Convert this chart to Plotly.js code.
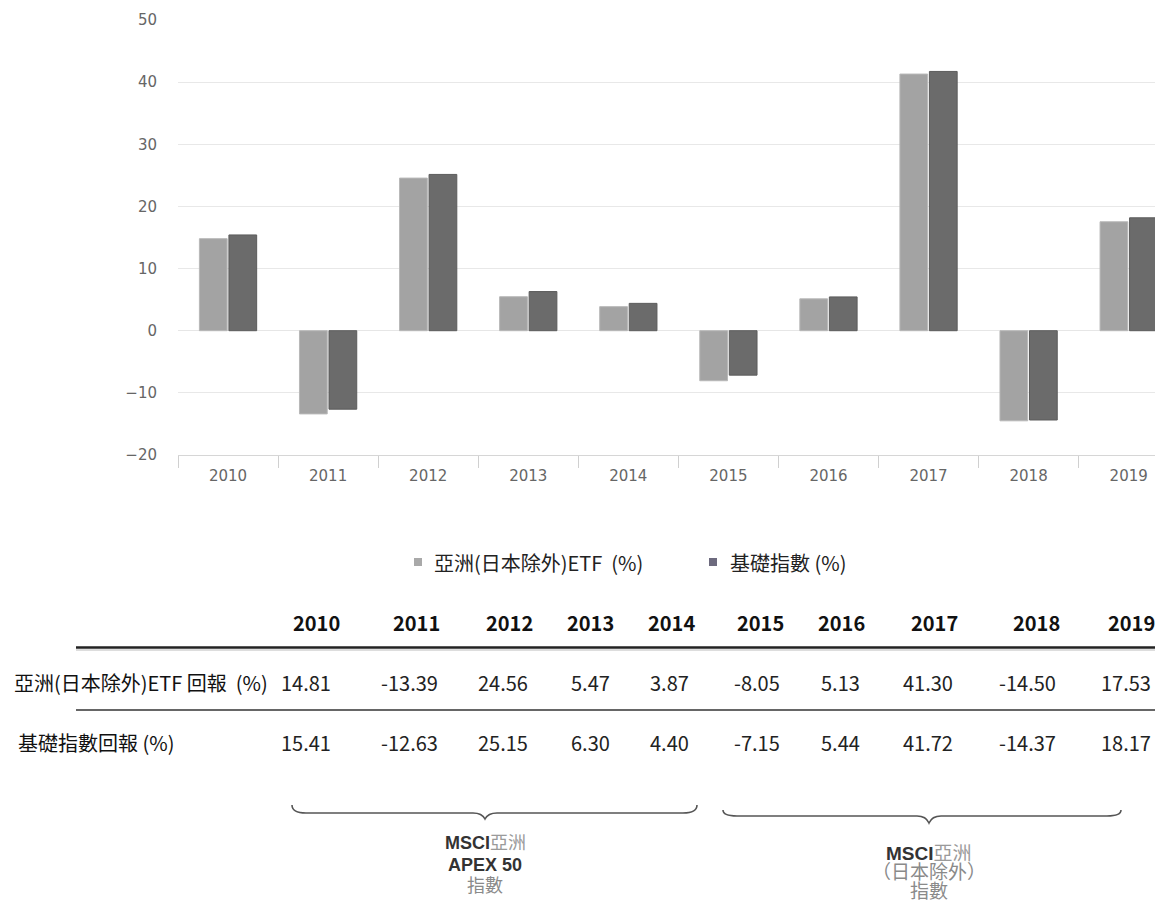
<!DOCTYPE html>
<html>
<head>
<meta charset="utf-8">
<script src="https://cdn.plot.ly/plotly-3.0.1.min.js"></script>
<style>
  html, body { margin: 0; padding: 0; background: #ffffff; }
  #chart { width: 1155px; height: 902px; }
</style>
</head>
<body>
<div id="chart"></div>
<script>
// ---------- DATA ----------
const years = ['2010', '2011', '2012', '2013', '2014', '2015', '2016', '2017', '2018', '2019'];
const etfReturns = [14.81, -13.39, 24.56, 5.47, 3.87, -8.05, 5.13, 41.30, -14.50, 17.53];
const indexReturns = [15.41, -12.63, 25.15, 6.30, 4.40, -7.15, 5.44, 41.72, -14.37, 18.17];
const seriesNames = ['亞洲(日本除外)ETF\u00a0\u00a0(%)', '基礎指數 (%)'];
const rowLabels = ['亞洲(日本除外)ETF 回報\u00a0\u00a0(%)', '基礎指數回報 (%)'];
const yTickValues = [-20, -10, 0, 10, 20, 30, 40, 50];
const braceOneLines = ['MSCI|亞洲', 'APEX 50', '指數'];
const braceTwoLines = ['MSCI|亞洲', '（日本除外）', '指數'];

// ---------- LAYOUT HELPERS (pixel -> paper) ----------
const W = 1155, H = 902;
const M = { l: 178, r: 0, t: 20, b: 447 };
const plotW = W - M.l - M.r, plotH = H - M.t - M.b;
const X = px => (px - M.l) / plotW;
const Y = py => (H - M.b - py) / plotH;

const colors = { etf: '#a3a3a3', idx: '#6b6b6b', legendEtf: '#a9a9a9', legendIdx: '#6d6a7e' };
const cjk = '"Noto Sans CJK TC", "Noto Sans CJK SC", sans-serif';

// table column positions (pixels)
const headerX = [316, 416, 509, 590, 671, 760, 841, 934, 1036, 1131];
const valueX = [306, 409, 503, 590, 669, 757, 840, 928, 1027, 1126];
const headerY = 622, row1Y = 682, row2Y = 742;

const annotations = [];
const shapes = [];

// legend (manual)
const legendItems = [
  { sx: 418, tx: 432, color: colors.legendEtf, text: seriesNames[0] },
  { sx: 713, tx: 728, color: colors.legendIdx, text: seriesNames[1] }
];
legendItems.forEach(it => {
  shapes.push({ type: 'rect', xref: 'paper', yref: 'paper',
    x0: X(it.sx - 4), x1: X(it.sx + 4), y0: Y(566), y1: Y(558),
    fillcolor: it.color, line: { width: 0 } });
  annotations.push({ xref: 'paper', yref: 'paper', x: X(it.tx), y: Y(562),
    xanchor: 'left', yanchor: 'middle', showarrow: false, text: it.text,
    font: { family: cjk, size: 20, color: '#222' } });
});

// table header
years.forEach((yr, i) => {
  annotations.push({ xref: 'paper', yref: 'paper', x: X(headerX[i]), y: Y(headerY),
    xanchor: 'center', yanchor: 'middle', showarrow: false, text: '<b>' + yr + '</b>',
    font: { family: cjk, size: 20, color: '#111' } });
});
// row labels
annotations.push({ xref: 'paper', yref: 'paper', x: X(12), y: Y(row1Y), xanchor: 'left', yanchor: 'middle',
  showarrow: false, text: rowLabels[0], font: { family: cjk, size: 20, color: '#111' } });
annotations.push({ xref: 'paper', yref: 'paper', x: X(16), y: Y(row2Y), xanchor: 'left', yanchor: 'middle',
  showarrow: false, text: rowLabels[1], font: { family: cjk, size: 20, color: '#111' } });
// values
[etfReturns, indexReturns].forEach((arr, r) => {
  arr.forEach((v, i) => {
    annotations.push({ xref: 'paper', yref: 'paper', x: X(valueX[i]), y: Y(r === 0 ? row1Y : row2Y),
      xanchor: 'center', yanchor: 'middle', showarrow: false, text: v.toFixed(2),
      font: { family: cjk, size: 20, color: '#222' } });
  });
});

// table rules
shapes.push({ type: 'line', xref: 'paper', yref: 'paper', x0: X(76), x1: X(1155), y0: Y(647.5), y1: Y(647.5),
  line: { color: '#222', width: 2.5 } });
shapes.push({ type: 'line', xref: 'paper', yref: 'paper', x0: X(76), x1: X(1155), y0: Y(650), y1: Y(650),
  line: { color: '#bbb', width: 1 } });
shapes.push({ type: 'line', xref: 'paper', yref: 'paper', x0: X(76), x1: X(1155), y0: Y(710), y1: Y(710),
  line: { color: '#666', width: 2 } });

// braces
function bracePath(x1, x2, xc, yTop, yLine, yTip) {
  const p = (x, y) => X(x) + ',' + Y(y);
  return 'M ' + p(x1, yTop) +
    ' Q ' + p(x1, yLine) + ' ' + p(x1 + 14, yLine) +
    ' L ' + p(xc - 12, yLine) +
    ' Q ' + p(xc - 3, yLine) + ' ' + p(xc, yTip) +
    ' Q ' + p(xc + 3, yLine) + ' ' + p(xc + 12, yLine) +
    ' L ' + p(x2 - 14, yLine) +
    ' Q ' + p(x2, yLine) + ' ' + p(x2, yTop);
}
shapes.push({ type: 'path', xref: 'paper', yref: 'paper', path: bracePath(292, 697, 485, 805, 813, 819),
  line: { color: '#555', width: 1.6 } });
shapes.push({ type: 'path', xref: 'paper', yref: 'paper', path: bracePath(723, 1121, 929, 810, 816, 823),
  line: { color: '#555', width: 1.6 } });

function braceText(lines, cx, ys, size) {
  lines.forEach((ln, i) => {
    let txt;
    if (ln.indexOf('|') >= 0) {
      const parts = ln.split('|');
      txt = '<b>' + parts[0] + '</b><span style="color:#9a9a9a">' + parts[1] + '</span>';
    } else if (/[A-Za-z0-9]/.test(ln)) {
      txt = '<b>' + ln + '</b>';
    } else {
      txt = '<span style="color:#8a8a8a">' + ln + '</span>';
    }
    annotations.push({ xref: 'paper', yref: 'paper', x: X(cx), y: Y(ys[i]), xanchor: 'center', yanchor: 'middle',
      showarrow: false, text: txt,
      font: { family: '"Liberation Sans", "Noto Sans CJK TC", sans-serif', size: size, color: '#333' } });
  });
}
braceText(braceOneLines, 485, [843, 865, 886], 18);
braceText(braceTwoLines, 929, [853, 873, 891], 19);

// ---------- TRACES ----------
const traces = [
  { type: 'bar', name: seriesNames[0], x: years, y: etfReturns, showlegend: false,
    marker: { color: colors.etf, line: { color: '#b8b8b8', width: 1 } }, hoverinfo: 'skip' },
  { type: 'bar', name: seriesNames[1], x: years, y: indexReturns, showlegend: false,
    marker: { color: colors.idx, line: { color: '#5c5c5c', width: 1 } }, hoverinfo: 'skip' }
];

const tickFont = { family: '"DejaVu Sans", sans-serif', size: 15, color: '#666' };

const layout = {
  width: W, height: H,
  margin: { l: M.l, r: M.r, t: M.t, b: M.b, autoexpand: false },
  paper_bgcolor: '#ffffff', plot_bgcolor: '#ffffff',
  barmode: 'group', bargap: 0.41, bargroupgap: 0.06,
  showlegend: false,
  xaxis: {
    type: 'category', range: [-0.5, 9.263], tickson: 'boundaries',
    ticks: 'outside', ticklen: 12, tickcolor: '#d0d0d0', tickwidth: 1,
    ticklabelstandoff: 7,
    showline: true, linecolor: '#d6d6d6', linewidth: 1,
    showgrid: false, zeroline: false, tickfont: tickFont, fixedrange: true
  },
  yaxis: {
    range: [-20, 50], tickmode: 'array', tickvals: yTickValues,
    showgrid: true, gridcolor: '#e8e8e8', gridwidth: 1,
    zeroline: true, zerolinecolor: '#e6e6e6', zerolinewidth: 1,
    ticks: '', ticklabelstandoff: 20, showline: false,
    tickfont: tickFont, fixedrange: true
  },
  annotations: annotations,
  shapes: shapes
};

Plotly.newPlot('chart', traces, layout, { displayModeBar: false, staticPlot: true });
</script>
</body>
</html>
